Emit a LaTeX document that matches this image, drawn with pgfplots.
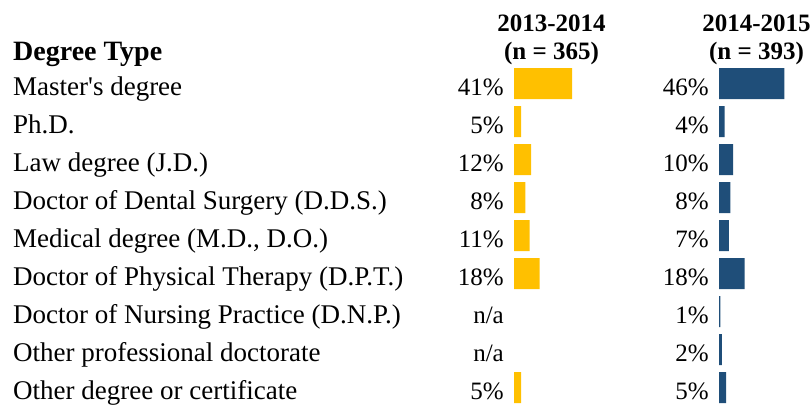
\documentclass[border=0pt]{standalone}
\usepackage{pgfplots}
\pgfplotsset{compat=1.18}
\usepackage{fontspec}
\setmainfont{Liberation Serif}
\definecolor{gold}{HTML}{FFC000}
\definecolor{navy}{HTML}{1F4E79}
\pgfplotsset{
  rowaxis/.style={
    scale only axis, y dir=reverse,
    ymin=-0.5, ymax=8.5, height=342pt,
    enlargelimits=false, clip=false,
    axis line style={draw=none}, major tick length=0pt,
    xtick=\empty, ytick={0,...,8},
    anchor=south west,
  },
  pctaxis/.style={
    rowaxis, xbar, xmin=0, xmax=50, width=71pt,
    bar width=31pt,
    yticklabel style={anchor=base east, inner sep=0pt, xshift=-10pt, yshift=-11.5pt,
      font=\fontsize{25}{30}\selectfont},
    title style={align=center, font=\fontsize{25}{28}\selectfont\bfseries,
      at={(0.5,1)}, anchor=south, inner sep=0pt, yshift=-6.5pt, xshift=2pt},
  },
}
\begin{document}
\begin{tikzpicture}
\useasboundingbox (0,0) rectangle (812pt,405pt);
% category labels
\begin{axis}[rowaxis, at={(13pt,-1.5pt)}, width=1pt, xmin=0, xmax=1,
  yticklabels={Master\textquotesingle s degree, Ph.D., Law degree (J.D.),
    Doctor of Dental Surgery (D.D.S.), {Medical degree (M.D., D.O.)},
    Doctor of Physical Therapy (D.P.T.), Doctor of Nursing Practice (D.N.P.),
    Other professional doctorate, Other degree or certificate},
  yticklabel style={anchor=base west, inner sep=0pt, yshift=-11.5pt,
    font=\fontsize{27}{32}\selectfont},
  title={Degree Type},
  title style={at={(0,1)}, anchor=base west, inner sep=0pt, yshift=-1.5pt,
    font=\fontsize{28}{32}\selectfont\bfseries},
]
\addplot[draw=none] coordinates {(0,0)};
\end{axis}
% 2013-2014
\begin{axis}[pctaxis, at={(514pt,-1.5pt)},
  yticklabels={41\%, 5\%, 12\%, 8\%, 11\%, 18\%, n/a, n/a, 5\%},
  title={2013-2014\\(n = 365)},
]
\addplot[draw=none, fill=gold] coordinates {(41,0) (5,1) (12,2) (8,3) (11,4) (18,5) (5,8)};
\end{axis}
% 2014-2015
\begin{axis}[pctaxis, at={(719pt,-1.5pt)},
  yticklabels={46\%, 4\%, 10\%, 8\%, 7\%, 18\%, 1\%, 2\%, 5\%},
  title={2014-2015\\(n = 393)},
]
\addplot[draw=none, fill=navy] coordinates {(46,0) (4,1) (10,2) (8,3) (7,4) (18,5) (1,6) (2,7) (5,8)};
\end{axis}
\end{tikzpicture}
\end{document}
